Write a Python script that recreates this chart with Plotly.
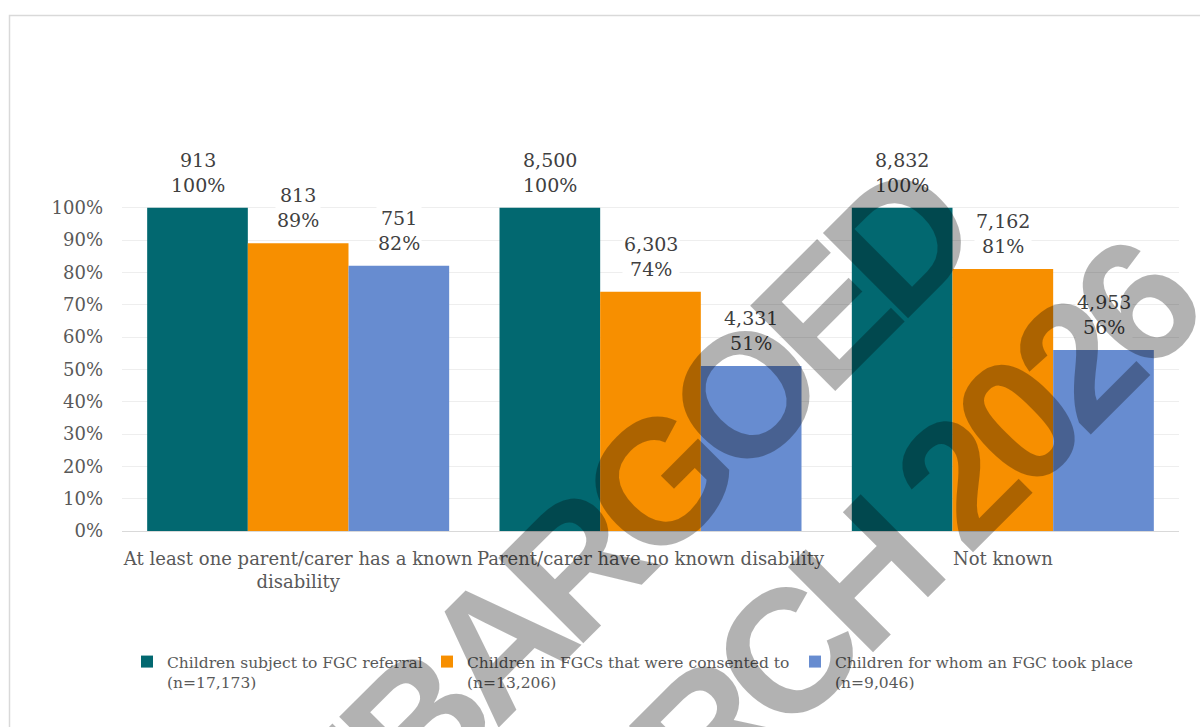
import plotly.graph_objects as go

# ---- data -------------------------------------------------------------
categories = [
    "At least one parent/carer has a known<br>disability",
    "Parent/carer have no known disability",
    "Not known",
]
series_names = [
    "Children subject to FGC referral<br>(n=17,173)",
    "Children in FGCs that were consented to<br>(n=13,206)",
    "Children for whom an FGC took place<br>(n=9,046)",
]
referral_counts = [913, 8500, 8832]
consented_counts = [813, 6303, 7162]
took_place_counts = [751, 4331, 4953]

referral_pct = [1.00, 1.00, 1.00]
consented_pct = [0.89, 0.74, 0.81]
took_place_pct = [0.82, 0.51, 0.56]

y_ticks = [0, 0.1, 0.2, 0.3, 0.4, 0.5, 0.6, 0.7, 0.8, 0.9, 1.0]

watermark_lines = ["EMBARGOED", "MARCH 2026"]

# ---- styling ----------------------------------------------------------
colors = ["#026870", "#F78F00", "#678CD0"]
legend_widths = [255, 323, None]
W, H = 1200, 727
M_L, M_R, M_T, M_B = 122, 21, 143, 196
Y_MAX = 1.2
GROUP_FRAC = 6 / 7          # share of each category slot used by its bars
BAR_W = GROUP_FRAC / 3
SERIF = "DejaVu Serif"
LABEL_GREY = "#595959"
WATERMARK_CENTERS = [(574, 566), (828, 611)]   # pixel centres of the two lines


def px_to_paper(px, py):
    pw = W - M_L - M_R
    ph = H - M_T - M_B
    return (px - M_L) / pw, (H - M_B - py) / ph


counts = [referral_counts, consented_counts, took_place_counts]
pcts = [referral_pct, consented_pct, took_place_pct]

fig = go.Figure()
annotations = []
for j, (name, cnt, pct, col) in enumerate(zip(series_names, counts, pcts, colors)):
    xs = [i + (j - 1) * BAR_W for i in range(len(categories))]
    fig.add_trace(go.Bar(
        x=xs, y=pct, width=BAR_W, name=name,
        marker=dict(color=col, line=dict(width=0)),
        legendwidth=legend_widths[j],
        hoverinfo="skip",
    ))
    for x, n, p in zip(xs, cnt, pct):
        annotations.append(dict(
            x=x, y=p, xref="x", yref="y",
            text=f"{n:,}<br>{p:.0%}",
            showarrow=False, xanchor="center", yanchor="bottom",
            yshift=10, bgcolor="white", borderpad=1,
            font=dict(family=SERIF, size=19, color="#404040"),
        ))

# semi-transparent watermark across the chart
for txt, (cx, cy) in zip(watermark_lines, WATERMARK_CENTERS):
    wx, wy = px_to_paper(cx, cy)
    annotations.append(dict(
        x=wx, y=wy, xref="paper", yref="paper",
        text=f"<span style='letter-spacing:-14px'>{txt}</span>",
        showarrow=False, xanchor="center", yanchor="middle", textangle=-45,
        font=dict(family="Liberation Sans", size=175, color="rgba(0,0,0,0.3)",
                  weight="bold"),
    ))

# outer chart border
bx0, by0 = px_to_paper(9.5, 15.5)
bx1, by1 = px_to_paper(W + 20, H + 20)
fig.add_shape(type="rect", xref="paper", yref="paper",
              x0=bx0, y0=by1, x1=bx1, y1=by0,
              line=dict(color="#D9D9D9", width=1.5), layer="below")

lx, ly = px_to_paper(127, 645)
fig.update_layout(
    width=W, height=H,
    margin=dict(l=M_L, r=M_R, t=M_T, b=M_B),
    paper_bgcolor="white", plot_bgcolor="white",
    barmode="overlay",
    showlegend=True,
    legend=dict(
        orientation="h", x=lx, y=ly, xanchor="left", yanchor="top",
        font=dict(family=SERIF, size=15.5, color=LABEL_GREY),
        valign="top", traceorder="normal", itemclick=False,
    ),
    xaxis=dict(
        range=[-0.5, len(categories) - 0.5],
        tickvals=list(range(len(categories))), ticktext=categories,
        showgrid=False, zeroline=False,
        showline=True, linecolor="#D9D9D9", linewidth=1,
        ticks="", ticklabelstandoff=11,
        tickfont=dict(family=SERIF, size=18, color=LABEL_GREY),
    ),
    yaxis=dict(
        range=[0, Y_MAX], tickvals=y_ticks, tickformat=".0%",
        showgrid=True, gridcolor="#EEEEEE", gridwidth=1,
        zeroline=False, showline=False, ticks="",
        ticklabelstandoff=18,
        tickfont=dict(family=SERIF, size=18, color=LABEL_GREY),
    ),
    annotations=annotations,
)

fig.write_html("out.html")
